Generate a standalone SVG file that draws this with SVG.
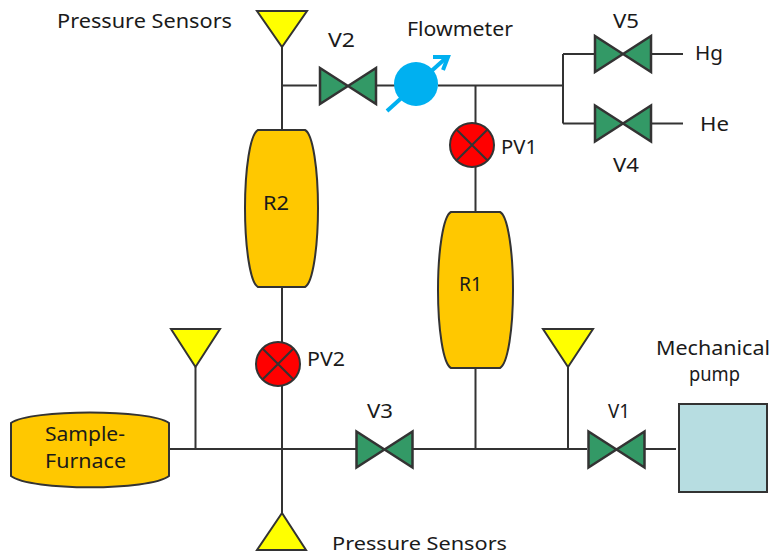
<svg xmlns="http://www.w3.org/2000/svg" width="771" height="556" viewBox="0 0 771 556">
<style>
.l{fill:none;stroke:#333;stroke-width:2}
.y{fill:#ff0;stroke:#333;stroke-width:2}
.v{fill:#339966;stroke:#333;stroke-width:2.5}
.o{fill:#ffc800;stroke:#333;stroke-width:2}
.p{fill:#f00;stroke:#333;stroke-width:2}
.x{fill:none;stroke:#333;stroke-width:2}
.f{fill:none;stroke:#00b0f0;stroke-width:4}
text{font-family:"Noto Sans","DejaVu Sans",sans-serif;font-size:20px;fill:#1a1a1a}
</style>
<defs>
<polygon id="valve" class="v" points="-28,-18 28,18 28,-18 -28,18"/>
<g id="pv"><circle class="p" r="22"/><path class="x" d="M-15,-15L15,15M-15,15L15,-15"/></g>
</defs>
<g id="connectors">
<path class="l" d="M282,47V130M282,85.500H317M376,85.500H398M438,85.500H563M475.500,85.500V125M475.500,167V212M563,54V123.500M563,54H594M563,123.500H594M651,54H683M651,123.500H683"/>
<path class="l" d="M282,287V343M282,386V515M169,449H356M413,449H587M645,449H676M195.500,367V449M475.500,368V449M568,367V449"/>
</g>
<g id="sensor-top"><polygon class="y" points="257,11 307,11 282,47"/></g>
<g id="sensor-left"><polygon class="y" points="171,329 220,329 195.500,367"/></g>
<g id="sensor-right"><polygon class="y" points="543,329 593,329 568,367"/></g>
<g id="sensor-bottom"><polygon class="y" points="257,550 306,550 282,513"/></g>
<g id="V2"><use href="#valve" transform="translate(348,86)"/><text x="328" y="47" textLength="27" lengthAdjust="spacingAndGlyphs">V2</text></g>
<g id="V5"><use href="#valve" transform="translate(623,54)"/><text x="613" y="28" textLength="26" lengthAdjust="spacingAndGlyphs">V5</text></g>
<g id="V4"><use href="#valve" transform="translate(623,123.500)"/><text x="613" y="172" textLength="26" lengthAdjust="spacingAndGlyphs">V4</text></g>
<g id="V3"><use href="#valve" transform="translate(384.500,449.500)"/><text x="367" y="418" textLength="26" lengthAdjust="spacingAndGlyphs">V3</text></g>
<g id="V1"><use href="#valve" transform="translate(616.500,449.500)"/><text x="608" y="418" textLength="22" lengthAdjust="spacingAndGlyphs">V1</text></g>
<g id="flowmeter"><circle cx="416" cy="84" r="22" fill="#00b0f0"/><path class="f" d="M387,111L447,57"/><path class="f" d="M433,57H448L443,70"/><text x="407" y="36" textLength="106" lengthAdjust="spacingAndGlyphs">Flowmeter</text></g>
<g id="PV1"><use href="#pv" transform="translate(472,145)"/><text x="501" y="154" textLength="36" lengthAdjust="spacingAndGlyphs">PV1</text></g>
<g id="PV2"><use href="#pv" transform="translate(278,364)"/><text x="307" y="366" textLength="38" lengthAdjust="spacingAndGlyphs">PV2</text></g>
<g id="R2"><path class="o" d="M258,130H305C313,134 318,170 318,208C318,246 313,283 305,287H258C250,283 245,246 245,208C245,170 250,134 258,130Z"/><text x="263" y="210" textLength="26" lengthAdjust="spacingAndGlyphs">R2</text></g>
<g id="R1"><path class="o" d="M451,212H500C508,216 513,252 513,290C513,328 508,364 500,368H451C443,364 438,328 438,290C438,252 443,216 451,212Z"/><text x="459" y="291" textLength="23" lengthAdjust="spacingAndGlyphs">R1</text></g>
<g id="furnace"><path class="o" d="M11,423C30,409 150,409 169,423V476C150,491 30,491 11,476Z"/><text x="45" y="441" textLength="80" lengthAdjust="spacingAndGlyphs">Sample-</text><text x="45" y="468" textLength="81" lengthAdjust="spacingAndGlyphs">Furnace</text></g>
<g id="pump"><rect x="679" y="404" width="88" height="88" fill="#b7dde1" stroke="#333" stroke-width="2"/><text x="656" y="355" textLength="114" lengthAdjust="spacingAndGlyphs">Mechanical</text><text x="689" y="381" textLength="51" lengthAdjust="spacingAndGlyphs">pump</text></g>
<text x="57" y="28" textLength="175" lengthAdjust="spacingAndGlyphs">Pressure Sensors</text>
<text x="332" y="550" textLength="175" lengthAdjust="spacingAndGlyphs" style="font-size:18px">Pressure Sensors</text>
<text x="695" y="60" textLength="28" lengthAdjust="spacingAndGlyphs">Hg</text>
<text x="700" y="131" textLength="29" lengthAdjust="spacingAndGlyphs">He</text>
</svg>
